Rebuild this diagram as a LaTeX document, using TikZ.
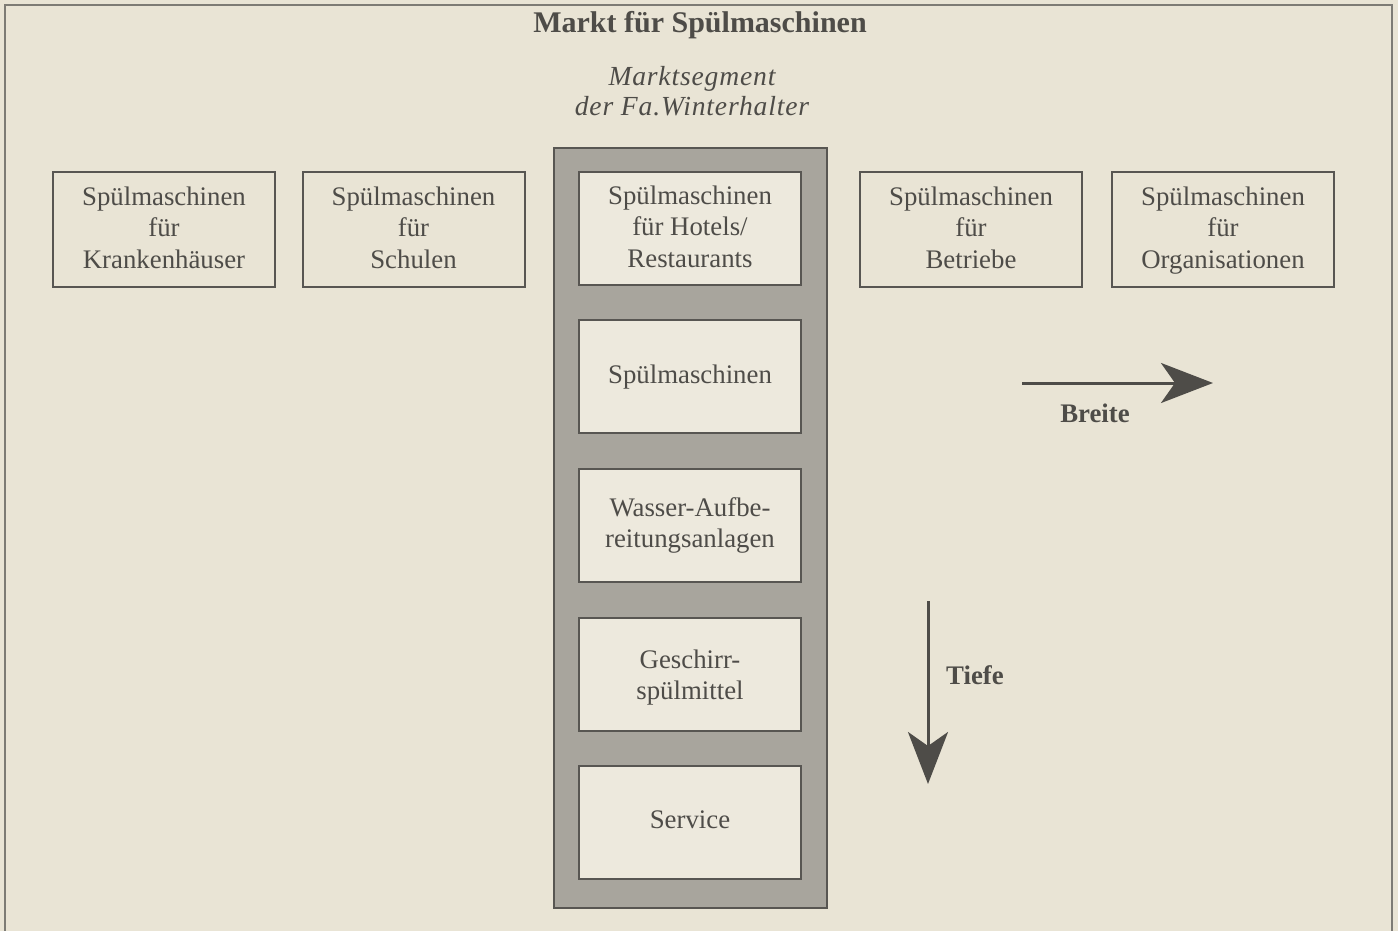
\documentclass[tikz,border=0pt]{standalone}
\usepackage{fontspec}
\setmainfont{Liberation Serif}
\usetikzlibrary{arrows.meta}
\definecolor{paper}{RGB}{233,228,213}
\definecolor{ink}{RGB}{78,76,72}
\definecolor{rule}{RGB}{88,86,82}
\definecolor{frame}{RGB}{125,123,117}
\definecolor{shade}{RGB}{168,165,157}
\definecolor{cell}{RGB}{237,233,221}
% centred block of lines, lowered by #1 without changing its size
\newcommand{\lines}[2]{\raisebox{-#1}[\height][\depth]{\begin{tabular}{@{}c@{}}#2\end{tabular}}}
\tikzset{
  box/.style={draw=rule, line width=1pt, minimum width=111pt, minimum height=57.5pt,
    inner sep=0pt, align=center, text=ink,
    font=\fontsize{13.4}{15.8}\selectfont},
  cellbox/.style={box, fill=cell, minimum height=56.5pt},
  column/.style={draw=rule, line width=1pt, fill=shade, minimum width=136.5pt,
    minimum height=380pt, inner sep=0pt},
  bigarrow/.style={draw=ink, line width=1.5pt,
    -{Stealth[length=26pt, width=20pt, inset=7pt]}},
  tag/.style={text=ink, font=\fontsize{13.4}{15.8}\selectfont\bfseries}
}
\begin{document}
\begin{tikzpicture}[x=0.5pt, y=-0.5pt]
  \useasboundingbox (0,0) rectangle (1398,931);
  \fill[paper] (0,0) rectangle (1398,931);
  \clip (0,0) rectangle (1398,931);
  \draw[frame, line width=1pt] (5,5) rectangle (1392,960);

  % title and segment caption
  \node[text=ink, font=\fontsize{15}{18}\selectfont\bfseries] (title) at (700,25) {Markt für Spülmaschinen};
  \node[text=ink, align=center,
    font=\fontsize{13.8}{15.2}\selectfont\itshape\addfontfeature{LetterSpace=3}] (caption) at (692,91)
    {Marktsegment\\der Fa.Winterhalter};

  % shaded segment column
  \node[column] (seg) at (690.5,528) {};

  % market breadth: the row of customer groups
  \node[box] (kh) at (164,229.5) {\lines{0.5pt}{Spülmaschinen\\für\\Krankenhäuser}};
  \node[box] (sch) at (413.5,229.5) {\lines{0.5pt}{Spülmaschinen\\für\\Schulen}};
  \node[cellbox] (hot) at (690,228.5) {\lines{0.5pt}{Spülmaschinen\\für Hotels/\\Restaurants}};
  \node[box] (bet) at (971,229.5) {\lines{0.5pt}{Spülmaschinen\\für\\Betriebe}};
  \node[box] (org) at (1223,229.5) {\lines{0.5pt}{Spülmaschinen\\für\\Organisationen}};

  % market depth: the product lines of the segment
  \node[cellbox] (spm) at (690,376.5) {\lines{0.5pt}{Spülmaschinen}};
  \node[cellbox] (wasser) at (690,525.5) {\lines{0pt}{Wasser-Aufbe-\\reitungsanlagen}};
  \node[cellbox] (mittel) at (690,674.5) {\lines{1.5pt}{Geschirr-\\spülmittel}};
  \node[cellbox] (serv) at (690,822.5) {\lines{0pt}{Service}};

  % direction arrows
  \coordinate (b0) at (1022,383);
  \coordinate (b1) at (1213,383);
  \draw[bigarrow] (b0) -- (b1);
  \node[tag] (breite) at (1095,413) {Breite};

  \coordinate (t0) at (928,601);
  \coordinate (t1) at (928,784);
  \draw[bigarrow] (t0) -- (t1);
  \node[tag] (tiefe) at (975,675) {Tiefe};
\end{tikzpicture}
\end{document}
